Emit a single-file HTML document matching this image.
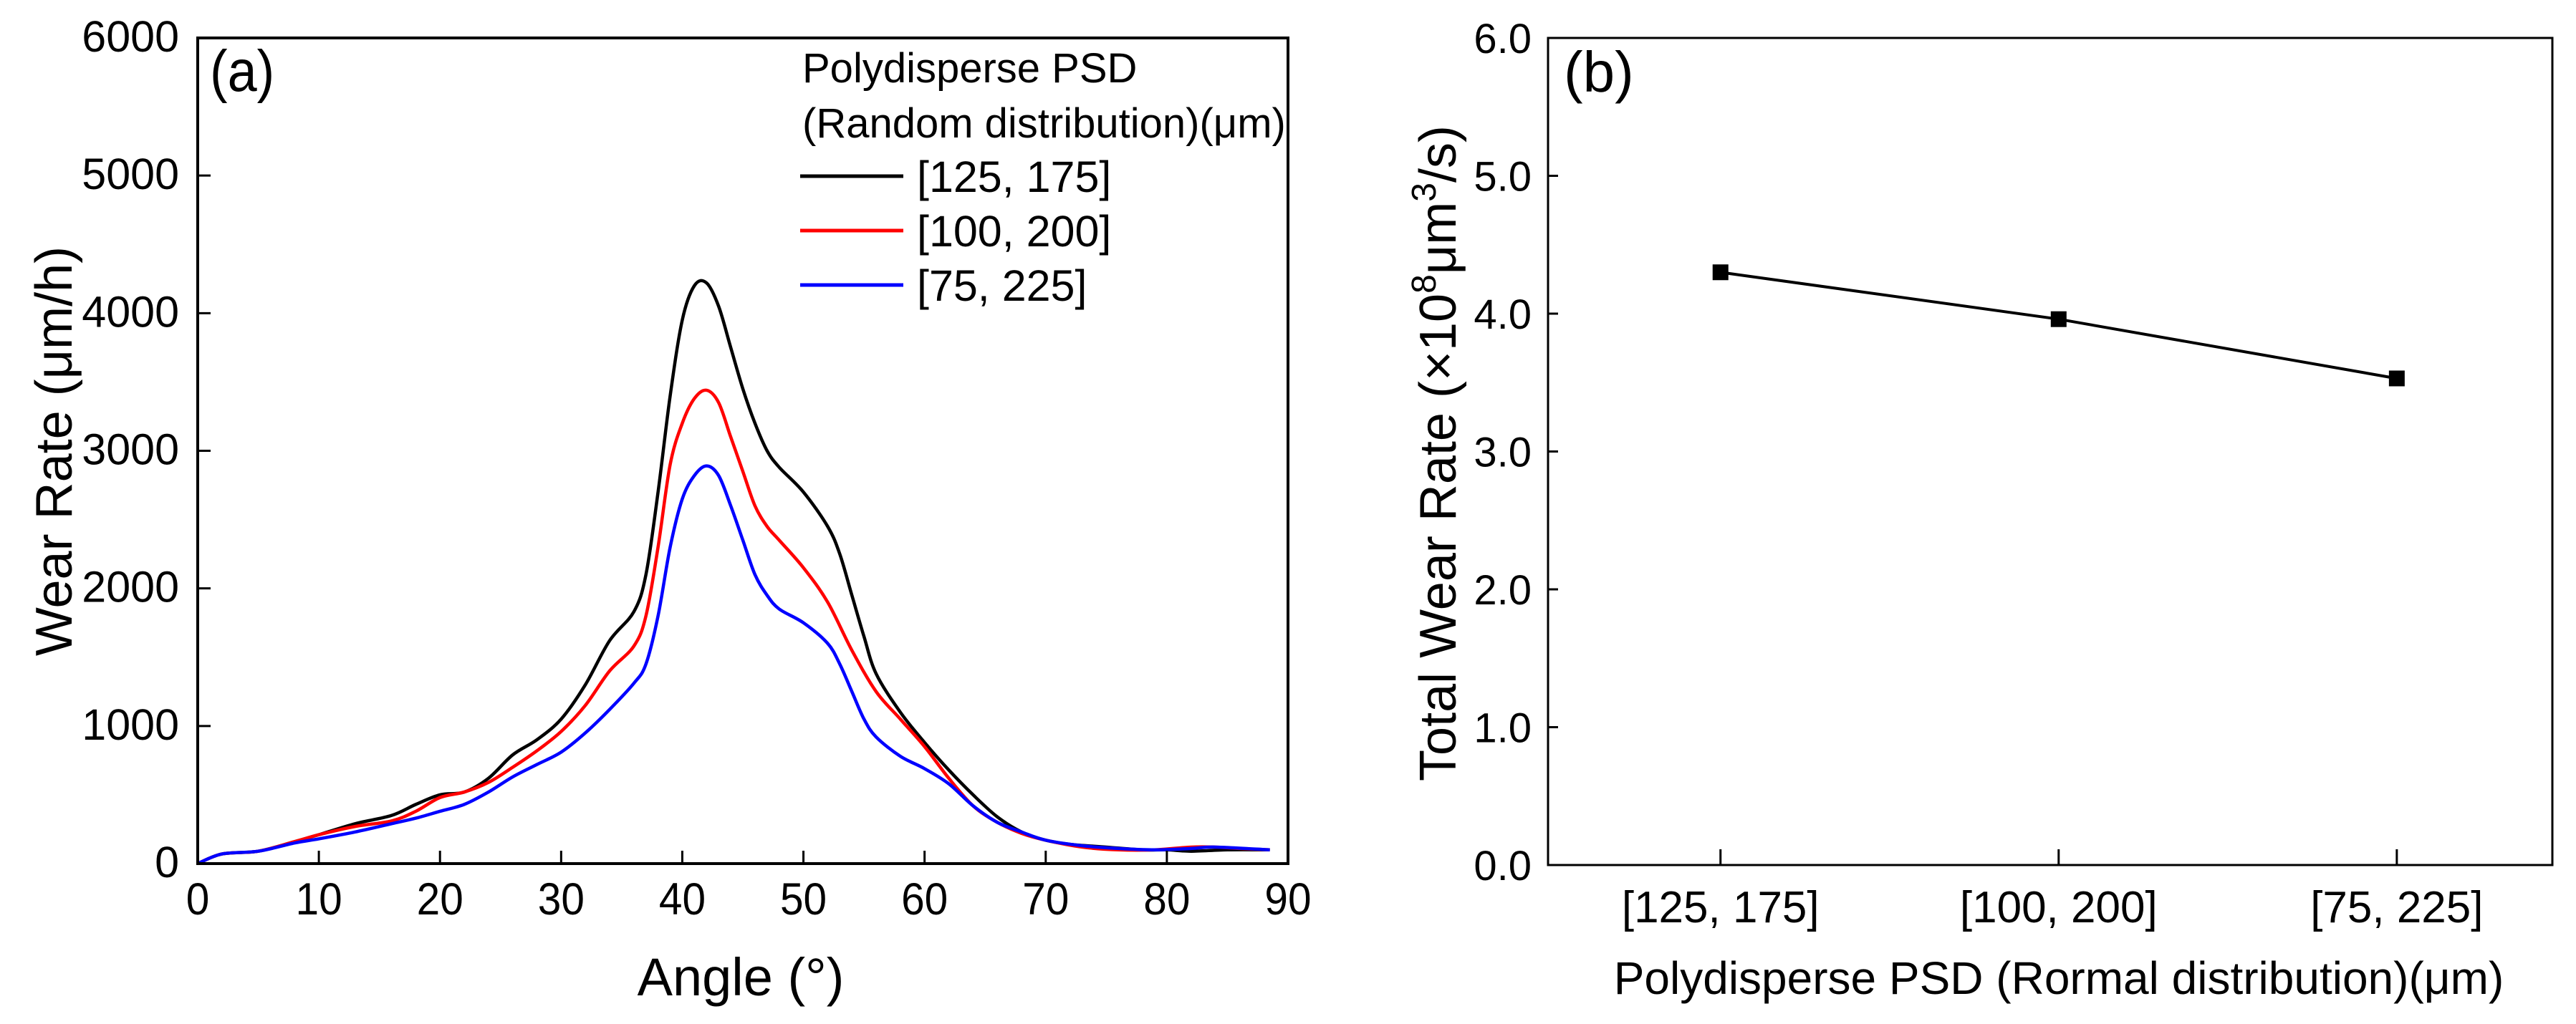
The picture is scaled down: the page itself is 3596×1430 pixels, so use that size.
<!DOCTYPE html>
<html><head><meta charset="utf-8"><style>
html,body{margin:0;padding:0;background:#fff;}
svg{display:block;font-family:"Liberation Sans",Arial,sans-serif;}
</style></head><body>
<svg id="fig" width="3596" height="1430" viewBox="0 0 3596 1430" xmlns="http://www.w3.org/2000/svg">
<rect width="3596" height="1430" fill="#fff"/>
<g id="pa"></g>
<g id="pb"></g>
</svg>
<script>
const angleA = [0,2,5,8,10,13,16,18,20,22,24,26,28,30,32,34,36,37,38,39,40,41,42,43,44,45,46,47,48,50,52,53,54,55,56,58,60,62,64,66,68,70,72,75,78,80,82,85,88.5];
const seriesBlack = [0,70,90,160,210,290,350,430,500,520,620,790,900,1050,1300,1620,1830,2100,2700,3400,3950,4200,4220,4050,3750,3450,3200,3000,2880,2700,2450,2250,1950,1650,1380,1100,880,680,500,340,230,170,140,120,100,100,90,100,100];
const angleR = [0,2,5,8,10,13,16,18,20,22,24,26,28,30,32,34,36,37,38,39,40,41,42,43,44,45,46,47,48,50,52,54,56,58,60,62,64,66,68,70,73,76,79,82,84,86,88.5];
const seriesRed = [0,70,90,160,210,270,310,380,480,520,590,700,820,960,1150,1400,1580,1800,2300,2900,3200,3380,3440,3350,3100,2850,2600,2450,2350,2150,1900,1550,1250,1050,850,620,420,300,220,170,120,100,100,120,120,110,100];
const angleB = [0,2,5,8,10,13,16,18,20,22,24,26,28,30,32,34,36,37,38,39,40,41,42,43,44,45,46,47,48,50,52,53,54,55,56,58,60,62,64,66,68,70,73,76,79,82,84,88.5];
const seriesBlue = [0,70,90,150,180,230,290,330,380,430,520,630,720,810,950,1120,1310,1450,1800,2300,2650,2820,2890,2820,2600,2350,2100,1950,1850,1750,1600,1450,1250,1050,920,780,690,580,420,300,230,170,130,110,100,110,120,100];
const xTicksA = [0,10,20,30,40,50,60,70,80,90];
const yTicksA = [0,1000,2000,3000,4000,5000,6000];
const legendLabels = ["[125, 175]","[100, 200]","[75, 225]"];
const catsB = ["[125, 175]","[100, 200]","[75, 225]"];
const valuesB = [4.3,3.96,3.53];
const yTicksB = ["0.0","1.0","2.0","3.0","4.0","5.0","6.0"];

const NS="http://www.w3.org/2000/svg";
function mk(parent,tag,attrs,text){const e=document.createElementNS(NS,tag);for(const k in attrs)e.setAttribute(k,attrs[k]);if(text!==undefined)e.textContent=text;parent.appendChild(e);return e;}

// Panel A
const A={l:276,r:1798,t:53,b:1206};
const xA=v=>A.l+(v-0)/(90-0)*(A.r-A.l);
const yA=v=>A.b-(v-0)/(6000-0)*(A.b-A.t);
const pa=document.getElementById('pa');
function smooth(xs,ys,fx,fy){const p=xs.map((x,i)=>[fx(x),fy(ys[i])]);let d=`M${p[0][0]},${p[0][1]}`;for(let i=0;i<p.length-1;i++){const p0=p[i-1]||p[i],p1=p[i],p2=p[i+1],p3=p[i+2]||p2;const c1=[p1[0]+(p2[0]-p0[0])/6,p1[1]+(p2[1]-p0[1])/6],c2=[p2[0]-(p3[0]-p1[0])/6,p2[1]-(p3[1]-p1[1])/6];d+=` C${c1[0]},${c1[1]} ${c2[0]},${c2[1]} ${p2[0]},${p2[1]}`;}return d;}
const lines=[[angleA,seriesBlack,'#000','series-125-175'],[angleR,seriesRed,'#f00','series-100-200'],[angleB,seriesBlue,'#00f','series-75-225']];
lines.forEach(s=>{const e=mk(pa,'path',{d:smooth(s[0],s[1],xA,yA),fill:'none',stroke:s[2],'stroke-width':4.5});

});
const frA=mk(pa,'rect',{x:A.l,y:A.t,width:A.r-A.l,height:A.b-A.t,fill:'none',stroke:'#000','stroke-width':4});


xTicksA.forEach(v=>{const x=xA(v);mk(pa,'line',{x1:x,x2:x,y1:A.b,y2:A.b-18,stroke:'#000','stroke-width':3});
const t=mk(pa,'text',{x:0,y:0,'font-size':63,'text-anchor':'middle',transform:`translate(${x},${A.b+71}) scale(0.93,1)`},String(v));

});
yTicksA.forEach(v=>{const y=yA(v);mk(pa,'line',{x1:A.l,x2:A.l+18,y1:y,y2:y,stroke:'#000','stroke-width':3});
const t=mk(pa,'text',{x:0,y:0,'font-size':61,'text-anchor':'end',transform:`translate(250,${y+19})`},String(v));

});
let t=mk(pa,'text',{x:1034,y:1390,'font-size':74,'text-anchor':'middle'},'Angle (°)');


t=mk(pa,'text',{x:0,y:0,'font-size':72,'text-anchor':'middle',transform:'translate(100,630) rotate(-90)'},'Wear Rate (μm/h)');


t=mk(pa,'text',{x:0,y:0,'font-size':82,transform:'translate(293,127) scale(0.9,1)'},'(a)');


t=mk(pa,'text',{x:1120,y:115,'font-size':58},'Polydisperse PSD');


t=mk(pa,'text',{x:1120,y:192,'font-size':58},'(Random distribution)(μm)');


const legY=[246,322,398];
legendLabels.forEach((lab,i)=>{const g=mk(pa,'g',{});


mk(g,'line',{x1:1117,x2:1261,y1:legY[i],y2:legY[i],stroke:lines[i][2],'stroke-width':5});
mk(g,'text',{x:1280,y:legY[i]+22,'font-size':61},lab);});

// Panel B
const B={l:2161,r:3563,t:53,b:1208};
const xB=i=>B.l+((i+1)-0.49)/(3.46-0.49)*(B.r-B.l);
const yB=v=>B.b-v/6*(B.b-B.t);
const pb=document.getElementById('pb');
const frB=mk(pb,'rect',{x:B.l,y:B.t,width:B.r-B.l,height:B.b-B.t,fill:'none',stroke:'#000','stroke-width':3});


yTicksB.forEach(v=>{const y=yB(parseFloat(v));mk(pb,'line',{x1:B.l,x2:B.l+14,y1:y,y2:y,stroke:'#000','stroke-width':3});
const tt=mk(pb,'text',{x:2138,y:y+21,'font-size':58,'text-anchor':'end'},v);

});
catsB.forEach((c,i)=>{const x=xB(i);mk(pb,'line',{x1:x,x2:x,y1:B.b,y2:B.b-22,stroke:'#000','stroke-width':3});
const tt=mk(pb,'text',{x:x,y:B.b+80,'font-size':62,'text-anchor':'middle'},c);

});
const pts=valuesB.map((v,i)=>`${xB(i)},${yB(v)}`).join(' ');
const pl=mk(pb,'polyline',{points:pts,fill:'none',stroke:'#000','stroke-width':4});


valuesB.forEach((v,i)=>{const m=mk(pb,'rect',{x:xB(i)-11,y:yB(v)-11,width:22,height:22,fill:'#000'});

});
t=mk(pb,'text',{x:2874,y:1388,'font-size':64,'text-anchor':'middle'},'Polydisperse PSD (Rormal distribution)(μm)');


t=mk(pb,'text',{x:0,y:0,'font-size':72,'text-anchor':'middle',transform:'translate(2032,633) rotate(-90)'});
t.innerHTML='Total Wear Rate (×10<tspan dy="-28" font-size="48">8</tspan><tspan dy="28">μm</tspan><tspan dy="-28" font-size="48">3</tspan><tspan dy="28">/s)</tspan>';


t=mk(pb,'text',{x:2183,y:128,'font-size':80},'(b)');


</script>
</body></html>
